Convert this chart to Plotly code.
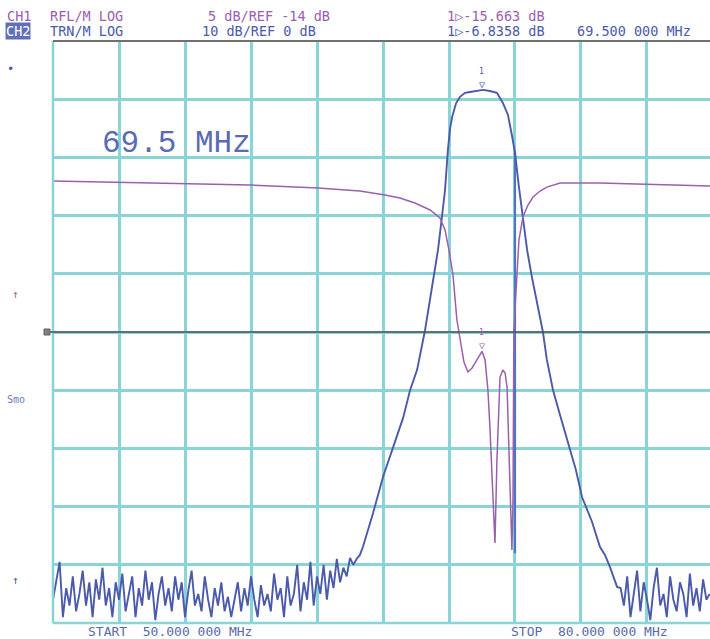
import plotly.graph_objects as go

# ---------------- data ----------------
x_range = [50.0, 79.864]          # MHz (start 50, 3 MHz/div)

# CH1 reflection (dB), 5 dB/div, REF -14 dB at centre
refl_f = [50.0, 54.41, 58.95, 62.05, 63.95, 65.09, 65.77, 66.45, 67.14, 67.59,
          67.82, 68.0, 68.18, 68.36, 68.5, 68.68, 68.86, 69.05, 69.27, 69.5,
          69.64, 69.77, 69.86, 70.0, 70.09, 70.18, 70.23, 70.32, 70.45, 70.55,
          70.64, 70.73, 70.82, 70.86, 70.91, 70.95, 71.05, 71.18, 71.36, 71.59,
          71.82, 72.14, 72.45, 73.05, 74.86, 77.14, 80.0]
refl_db = [-1.03, -1.2, -1.37, -1.63, -1.89, -2.23, -2.49, -2.92, -3.52, -4.21,
           -5.24, -6.96, -9.1, -12.97, -14.69, -16.58, -17.44, -17.09, -16.4, -15.66,
           -16.4, -18.98, -22.16, -27.83, -32.13, -25.0, -22.4, -17.87, -17.26, -17.52,
           -18.72, -24.14, -30.15, -32.73, -28.4, -13.8, -10.4, -6.1, -4.12, -3.09,
           -2.4, -1.89, -1.55, -1.2, -1.2, -1.29, -1.46]

# CH2 transmission (dB), 10 dB/div
noise_left_start, noise_step = 50.0, 0.15
noise_left_db = [-96, -93, -89.5, -99, -94, -97, -92, -98, -95, -91, -97, -93, -99, -92.5,
                 -96, -90.5, -97, -94, -99, -93, -96, -91.5, -98, -95, -92, -99, -94, -97,
                 -91, -96, -93, -99.5, -95, -92, -97, -94, -98, -92, -96, -93, -99, -94.5,
                 -91, -97, -95, -98, -92, -96, -99, -94, -97, -93, -98, -95.5, -99, -96,
                 -93, -98, -94, -97, -92, -96, -99, -93.5, -97, -95, -98, -91.5, -96, -94,
                 -99, -92, -97, -95, -90, -98, -93, -96, -89.5, -97, -92, -95, -90, -96,
                 -91, -94, -89, -93, -90.5, -92, -88.8, -90, -89]
pass_f = [63.95, 64.09, 64.55, 65.0, 65.45, 65.91, 66.23, 66.55, 66.91, 67.27, 67.5,
          67.68, 67.82, 67.95, 68.05, 68.14, 68.32, 68.5, 68.73, 68.95, 69.23, 69.55,
          69.86, 70.18, 70.45, 70.68, 70.86, 71.0, 71.18, 71.36, 71.55, 71.77, 72.0,
          72.27, 72.45, 72.73, 73.05, 73.5, 73.77, 74.05, 74.5, 74.86, 75.09, 75.32, 75.64]
pass_db = [-88.3, -86.9, -81.1, -74.9, -69.9, -64.8, -60.0, -56.5, -49.7, -41.6, -35.9,
           -30.2, -25.6, -18.7, -15.0, -13.1, -10.7, -9.6, -8.9, -8.76, -8.6, -8.4,
           -8.6, -8.9, -10.65, -12.7, -16.2, -19.2, -25.1, -30.2, -35.9, -40.6, -45.0,
           -50.0, -54.8, -60.0, -64.3, -69.9, -73.7, -78.4, -82.6, -86.9, -88.3, -90.4, -93.8]
noise_right_start = 75.8
noise_right_db = [-94, -97, -92, -99, -95, -91, -98, -93, -96, -99.5, -94, -90.5, -97, -95,
                  -99, -92, -96, -98, -93, -95, -99, -91.5, -97, -94, -98, -92.5, -96, -95]

overlap_f = [71.0, 71.0]
overlap_db = [-19.0, -88.0]

marker_f = 69.5
marker_trans_db = -8.4
marker_refl_db = -15.66

# ---------------- build ----------------
noise_left_f = [round(noise_left_start + noise_step * i, 3) for i in range(len(noise_left_db))]
noise_right_f = [round(noise_right_start + noise_step * i, 3) for i in range(len(noise_right_db))]
trans_f = noise_left_f + pass_f + noise_right_f
trans_db = noise_left_db + pass_db + noise_right_db

BLUE = '#4b5aa9'
PURPLE = '#9a60ab'
GRID = '#88d4d7'

fig = go.Figure()
fig.add_trace(go.Scatter(x=overlap_f, y=overlap_db, mode='lines',
                         line=dict(color='#4f74c4', width=2.2), hoverinfo='skip'))
fig.add_trace(go.Scatter(x=trans_f, y=trans_db, mode='lines',
                         line=dict(color=BLUE, width=1.9), name='TRN'))
fig.add_trace(go.Scatter(x=refl_f, y=refl_db, mode='lines', yaxis='y2',
                         line=dict(color=PURPLE, width=1.5), name='RFL'))

L, T, W, H = 53, 41, 657, 582


def px(x):
    return (x - L) / W


def py(y):
    return (T + H - y) / H


MONO = 'DejaVu Sans Mono'
ann = []


def txt(s, x, y, color, size=13.5, xa='left', font=MONO, **kw):
    ann.append(dict(text=s, x=px(x), y=py(y), xref='paper', yref='paper',
                    xanchor=xa, yanchor='middle', showarrow=False,
                    font=dict(family=font, size=size, color=color), **kw))


txt('CH1', 5, 16, PURPLE)
txt('CH2', 5, 31, 'white', bgcolor='#6070b8', borderpad=0)
txt('RFL/M LOG', 48, 16, PURPLE)
txt('TRN/M LOG', 48, 31, BLUE)
txt('5 dB/REF -14 dB', 332, 16, PURPLE, xa='right')
txt('10 dB/REF 0 dB', 318, 31, BLUE, xa='right')
txt('1▷-15.663 dB', 445, 16, PURPLE)
txt('1▷-6.8358 dB', 445, 31, BLUE)
txt('69.500 000 MHz', 575, 31, BLUE)
txt('69.5 MHz', 100, 143, '#5a6ab4', size=31, font='Liberation Mono')
txt('START  50.000 000 MHz', 86, 631, '#5a6aa8', size=13)
txt('STOP  80.000 000 MHz', 509, 631, '#5a6aa8', size=13)
txt('•', 5, 69, BLUE, size=12)
txt('↑', 10, 294, PURPLE, size=11)
txt('Smo', 5, 399, '#6a7ab8', size=10)
txt('↑', 10, 580, BLUE, size=11)

# marker symbols on the traces
for yref, val, col in (('y', marker_trans_db, BLUE), ('y2', marker_refl_db, PURPLE)):
    ann.append(dict(text='▽', x=marker_f, y=val, xref='x', yref=yref, xanchor='center',
                    yanchor='bottom', yshift=-2, showarrow=False,
                    font=dict(family=MONO, size=10, color=col)))
    ann.append(dict(text='1', x=marker_f, y=val, xref='x', yref=yref, xanchor='center',
                    yanchor='bottom', yshift=12, showarrow=False,
                    font=dict(family=MONO, size=8, color=col)))

shapes = [
    dict(type='line', xref='paper', yref='paper', x0=0, x1=1, y0=0, y1=0,
         line=dict(color=GRID, width=2.5)),
    dict(type='line', xref='paper', yref='paper', x0=0, x1=0, y0=0, y1=1,
         line=dict(color=GRID, width=2.5)),
    dict(type='line', xref='paper', yref='paper', x0=0, x1=1, y0=1, y1=1,
         line=dict(color='#707070', width=2)),
    dict(type='line', xref='paper', yref='paper', x0=px(48), x1=1, y0=0.5, y1=0.5,
         line=dict(color='#505050', width=1.5)),
    dict(type='rect', xref='paper', yref='paper', x0=px(44), x1=px(50), y0=py(335), y1=py(329),
         line=dict(color='#606060', width=1), fillcolor='#808080'),
]

fig.update_layout(
    width=710, height=639,
    margin=dict(l=L, r=0, t=T, b=639 - T - H),
    paper_bgcolor='white', plot_bgcolor='white', showlegend=False,
    xaxis=dict(range=x_range, tick0=50, dtick=3, showgrid=True, gridcolor=GRID, gridwidth=2.5,
               showticklabels=False, zeroline=False, ticks=''),
    yaxis=dict(range=[-100, 0], tick0=0, dtick=10, showgrid=True, gridcolor=GRID, gridwidth=2.5,
               showticklabels=False, zeroline=False, ticks=''),
    yaxis2=dict(range=[-39, 11], overlaying='y', showgrid=False, showticklabels=False,
                zeroline=False, ticks=''),
    annotations=ann, shapes=shapes,
)

fig.write_html('out.html', config={'displayModeBar': False},
               post_script="document.body.style.margin='0';document.body.style.overflow='hidden';")
